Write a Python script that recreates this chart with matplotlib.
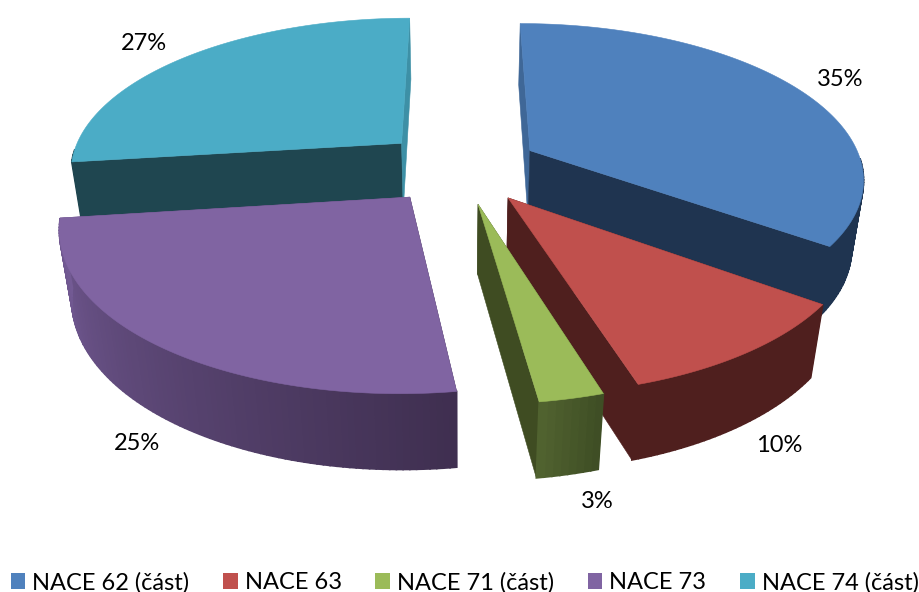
import numpy as np
import matplotlib
matplotlib.use('Agg')
import matplotlib.pyplot as plt
from matplotlib.patches import Patch
from matplotlib.colors import to_rgb

# chart data
labels = ['NACE 62 (část)', 'NACE 63', 'NACE 71 (část)', 'NACE 73', 'NACE 74 (část)']
values = [35, 10.25, 2.55, 25.2, 27]

# styles
top_colors = ['#4F81BD', '#C0504D', '#9BBB59', '#8064A2', '#4BACC6']
start_wall = ['#3F6797', '#4F1F1E', '#3F4C22', '#3F3150', '#1F4650']
end_wall = ['#1F3450', '#4F1F1E', '#3F4C22', '#5F4A7C', '#3D90A6']
outer_from = ['#1F3450', '#4F1F1E', '#3F4E25', '#3F2F50', '#1F4650']
outer_to = ['#1F3450', '#4F1F1E', '#50622F', '#735A94', '#1F4650']
label_pos = [(840, 80), (779, 445), (597, 502), (137, 444), (144, 44)]
draw_order = [4, 0, 1, 2, 3]

# projection of the pie onto the picture
X0, Y0 = 460, 167
SX, SY, SZ = 333, 153, 70
PERSP_Y, PERSP_Z = 0.165, 0.03
EXPLODE = 0.24


def project(x, y, z):
    w = 1 - PERSP_Y * y - PERSP_Z * z
    return X0 + SX * x / w, Y0 + (SY * y - SZ * z) / w


def main():
    fig = plt.figure(figsize=(9.2, 5.92), dpi=100)
    ax = fig.add_axes([0, 0, 1, 1])
    ax.set_xlim(0, 920)
    ax.set_ylim(592, 0)
    ax.axis('off')

    fractions = np.array(values) / sum(values)
    edges = np.concatenate([[0], np.cumsum(fractions)]) * 2 * np.pi

    for i in draw_order:
        a0, a1 = edges[i], edges[i + 1]
        mid = (a0 + a1) / 2
        ox, oy = EXPLODE * np.sin(mid), -EXPLODE * np.cos(mid)
        t = np.linspace(a0, a1, max(int((a1 - a0) * 60), 8))
        xs, ys = ox + np.sin(t), oy - np.cos(t)

        # the two cut faces
        for xe, ye, col in [(xs[0], ys[0], start_wall[i]), (xs[-1], ys[-1], end_wall[i])]:
            p = [project(ox, oy, 0), project(xe, ye, 0),
                 project(xe, ye, -1), project(ox, oy, -1)]
            ax.fill(*zip(*p), color=col, lw=0.4)

        # outer wall, short strips so that the shading can change along it
        c0, c1 = np.array(to_rgb(outer_from[i])), np.array(to_rgb(outer_to[i]))
        for k in range(len(t) - 1):
            # the back of the rim can't be seen
            if np.cos(t[k]) > -0.05:
                continue
            p = [project(xs[k], ys[k], 0), project(xs[k + 1], ys[k + 1], 0),
                 project(xs[k + 1], ys[k + 1], -1), project(xs[k], ys[k], -1)]
            col = c0 + (c1 - c0) * k / (len(t) - 2)
            ax.fill(*zip(*p), color=col, lw=1.2)

        # top face
        top = [project(ox, oy, 0)] + [project(a, b, 0) for a, b in zip(xs, ys)]
        ax.fill(*zip(*top), color=top_colors[i], lw=0.4)

    for v, (lx, ly) in zip(values, label_pos):
        ax.text(lx, ly, f'{v:.0f}%', ha='center', va='center', fontsize=17,
                family='Lato', color='black')

    handles = [Patch(facecolor=c, edgecolor='none') for c in top_colors]
    ax.legend(handles, labels, loc='lower center', ncol=5, frameon=False,
              bbox_to_anchor=(0.505, -0.002), prop={'family': 'Lato', 'size': 17},
              handlelength=0.62, handleheight=0.62, handletextpad=0.3,
              columnspacing=1.42, borderpad=0.0, borderaxespad=0.0)

    fig.savefig('out.png', dpi=100, facecolor='white')


if __name__ == "__main__":
    main()
